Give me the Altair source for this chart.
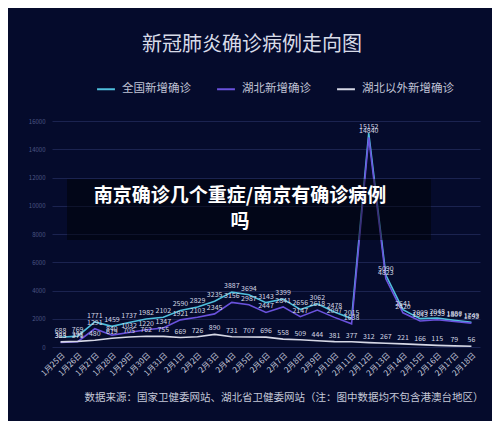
import altair as alt
import pandas as pd

dates = ["1月25日", "1月26日", "1月27日", "1月28日", "1月29日", "1月30日", "1月31日",
         "2月1日", "2月2日", "2月3日", "2月4日", "2月5日", "2月6日", "2月7日", "2月8日",
         "2月9日", "2月10日", "2月11日", "2月12日", "2月13日", "2月14日", "2月15日",
         "2月16日", "2月17日", "2月18日"]
national = [688, 769, 1771, 1459, 1737, 1982, 2102, 2590, 2829, 3235, 3887, 3694, 3143,
            3399, 2656, 3062, 2478, 2015, 15152, 5090, 2641, 2009, 2048, 1886, 1749]
hubei = [323, 371, 1291, 840, 1032, 1220, 1347, 1921, 2103, 2345, 3156, 2987, 2447,
         2841, 2147, 2618, 2097, 1638, 14840, 4823, 2420, 1843, 1933, 1807, 1693]
outside = [365, 398, 480, 619, 705, 762, 755, 669, 726, 890, 731, 707, 696, 558, 509,
           444, 381, 377, 312, 267, 221, 166, 115, 79, 56]
series_names = ["全国新增确诊", "湖北新增确诊", "湖北以外新增确诊"]
series_colors = ["#4fbfdc", "#6a52dc", "#d6d8e6"]
y_ticks = [0, 2000, 4000, 6000, 8000, 10000, 12000, 14000, 16000]

title_text = "新冠肺炎确诊病例走向图"
source_text = "数据来源：国家卫健委网站、湖北省卫健委网站（注：图中数据均不包含港澳台地区）"
banner_lines = ["南京确诊几个重症/南京有确诊病例", "吗"]

rows = []
for name, vals in zip(series_names, [national, hubei, outside]):
    for d, v in zip(dates, vals):
        rows.append({"date": d, "value": v, "series": name})
df = pd.DataFrame(rows)

FONT = "Noto Sans CJK SC"
BG = "#050b2c"

x_axis = alt.Axis(title=None, labelAngle=-45, labelFontSize=8, labelColor="#c4c8da",
                  labelFont=FONT, ticks=False, domain=False, grid=False, labelPadding=4,
                  labelOverlap=False)
y_axis = alt.Axis(title=None, values=y_ticks, format="d", labelFontSize=6,
                  labelColor="#4c5685", labelOverlap=False, labelFlush=False,
                  ticks=False, domain=False, gridColor="#1b2350", gridWidth=1,
                  labelPadding=7, labelFont=FONT)
x_scale = alt.Scale(padding=0.5)
y_scale = alt.Scale(domain=[0, 16000], nice=False)

lines = alt.Chart(df).mark_line(strokeWidth=1.6).encode(
    x=alt.X("date:N", sort=dates, scale=x_scale, axis=x_axis),
    y=alt.Y("value:Q", scale=y_scale, axis=y_axis),
    color=alt.Color("series:N", sort=series_names,
                    scale=alt.Scale(domain=series_names, range=series_colors),
                    legend=alt.Legend(title=None, orient="none", legendX=44, legendY=-42,
                                      direction="horizontal", symbolType="stroke",
                                      symbolStrokeWidth=2, symbolSize=320,
                                      labelFontSize=11.5, labelColor="#c0c4d6", labelFont=FONT,
                                      columnPadding=22, labelOffset=6)),
    detail="series:N",
)

labels = alt.Chart(df).mark_text(dy=-6, fontSize=7, color="#d4d7e4", font=FONT).encode(
    x=alt.X("date:N", sort=dates, scale=x_scale, axis=x_axis),
    y=alt.Y("value:Q", scale=y_scale, axis=y_axis),
    text="value:Q",
)

title = alt.Chart(pd.DataFrame({"t": [title_text]})).mark_text(
    fontSize=20, color="#d8dbe8", font=FONT, align="center", baseline="middle"
).encode(x=alt.value(200), y=alt.value(-76), text="t:N")

source = alt.Chart(pd.DataFrame({"t": [source_text]})).mark_text(
    fontSize=10.5, color="#c4c8d8", font=FONT, align="center", baseline="middle"
).encode(x=alt.value(232), y=alt.value(277), text="t:N")

banner_bg = alt.Chart(pd.DataFrame({"a": [0]})).mark_rect(color="#000000", opacity=0.45).encode(
    x=alt.value(15), x2=alt.value(379), y=alt.value(58), y2=alt.value(119)
)
banner_txt = alt.Chart(pd.DataFrame({"t": banner_lines, "yy": [75, 101]})).mark_text(
    fontSize=19, fontWeight="bold", color="#ffffff", font=FONT, align="center", baseline="middle"
).encode(x=alt.value(188), y=alt.Y("yy:Q", scale=None, axis=None), text="t:N")

chart = alt.layer(lines, labels, title, source, banner_bg, banner_txt).properties(
    width=428, height=226,
    autosize=alt.AutoSizeParams(type="none"),
    padding={"left": 44, "top": 113, "right": 12, "bottom": 74},
    background=BG,
).resolve_scale(y="shared").configure_view(stroke=None)

chart.save("out.html", embed_options={"renderer": "svg", "actions": False})
